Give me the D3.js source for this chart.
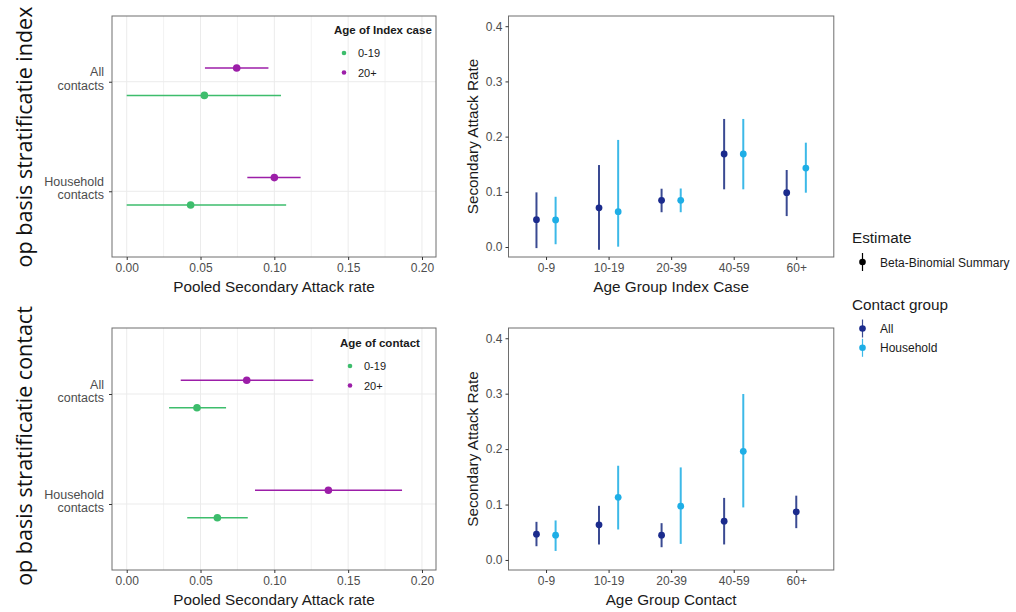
<!DOCTYPE html>
<html><head><meta charset="utf-8">
<script src="https://cdn.jsdelivr.net/npm/d3@7"></script>
<style>body{margin:0;background:#fff}svg{display:block}text{font-family:"Liberation Sans",Arial,sans-serif}</style>
</head><body><svg id="c" width="1016" height="612"></svg>
<script>
// ---------- DATA ----------
const contactTypes = ["All contacts", "Household contacts"];
const splitAges = ["0-19", "20+"];
// Top-left: stratified by age of index case
const idxEst019 = [0.0526, 0.0433];
const idxLo019  = [0.000, 0.000];
const idxHi019  = [0.1045, 0.108];
const idxEst20  = [0.0745, 0.100];
const idxLo20   = [0.053, 0.0817];
const idxHi20   = [0.096, 0.1178];
// Bottom-left: stratified by age of contact
const conEst019 = [0.0476, 0.0614];
const conLo019  = [0.0287, 0.041];
const conHi019  = [0.0673, 0.082];
const conEst20  = [0.0813, 0.1366];
const conLo20   = [0.0366, 0.0869];
const conHi20   = [0.1264, 0.1865];
const pooledTicks = [0, 0.05, 0.10, 0.15, 0.20];
const pooledMinor = [0.025, 0.075, 0.125, 0.175];

// Right panels
const ageGroups = ["0-9", "10-19", "20-39", "40-59", "60+"];
const contactGroups = ["All", "Household"];
const idxAllEst = [0.0495, 0.071, 0.0845, 0.1685, 0.0984];
const idxAllLo  = [-0.002, -0.005, 0.063, 0.1045, 0.056];
const idxAllHi  = [0.099, 0.1485, 0.1056, 0.232, 0.1395];
const idxHhEst  = [0.049, 0.064, 0.0845, 0.1685, 0.143];
const idxHhLo   = [0.005, 0.0006, 0.063, 0.1045, 0.0984];
const idxHhHi   = [0.091, 0.194, 0.106, 0.232, 0.189];
const conAllEst = [0.0465, 0.0634, 0.0447, 0.070, 0.0869];
const conAllLo  = [0.0248, 0.0279, 0.023, 0.028, 0.0574];
const conAllHi  = [0.0688, 0.0977, 0.0664, 0.112, 0.116];
const conHhEst  = [0.0447, 0.113, 0.097, 0.196, null];
const conHhLo   = [0.0163, 0.055, 0.029, 0.0948, null];
const conHhHi   = [0.0713, 0.170, 0.167, 0.2994, null];
const sarTicks = [0, 0.1, 0.2, 0.3, 0.4];

// ---------- STYLE ----------
const col = {"0-19": "#3dbd6c", "20+": "#9c1ea8"};
const colPt = {"All": "#1b2b8d", "Household": "#1eaee6"};
const colLn = {"All": "#3a4a92", "Household": "#3cb9e8"};
const tickCol = "#4d4d4d", borderCol = "#6e6e6e", gridCol = "#ebebeb";
const RX0 = 508.5, RX1 = 833.8;

const svg = d3.select("#c");

function leftPanel(y0, y1, est019, lo019, hi019, est20, lo20, hi20, legendTitle, legX, legY) {
  const g = svg.append("g");
  const x = d3.scaleLinear().domain([-0.00996, 0.2095]).range([112, 436]);
  const y = d3.scalePoint().domain(contactTypes).range([y0, y1]).padding(0.6);
  const off = y.step() * 0.125;
  g.selectAll(".gmin").data(pooledMinor).join("line")
    .attr("x1", d => x(d)).attr("x2", d => x(d)).attr("y1", y0).attr("y2", y1)
    .attr("stroke", "#f2f2f2").attr("stroke-width", 1);
  g.selectAll(".gmaj").data(pooledTicks).join("line")
    .attr("x1", d => x(d)).attr("x2", d => x(d)).attr("y1", y0).attr("y2", y1)
    .attr("stroke", gridCol).attr("stroke-width", 1);
  g.selectAll(".gh").data(contactTypes).join("line")
    .attr("x1", 112).attr("x2", 436).attr("y1", d => y(d)).attr("y2", d => y(d))
    .attr("stroke", gridCol).attr("stroke-width", 1);
  const series = [
    {age: "20+", est: est20, lo: lo20, hi: hi20, dy: -off},
    {age: "0-19", est: est019, lo: lo019, hi: hi019, dy: off}
  ];
  series.forEach(s => {
    const data = contactTypes.map((c, i) => ({c, e: s.est[i], l: s.lo[i], h: s.hi[i]}));
    g.selectAll(null).data(data).join("line")
      .attr("x1", d => x(d.l)).attr("x2", d => x(d.h))
      .attr("y1", d => y(d.c) + s.dy).attr("y2", d => y(d.c) + s.dy)
      .attr("stroke", col[s.age]).attr("stroke-width", 1.5);
    g.selectAll(null).data(data).join("circle")
      .attr("cx", d => x(d.e)).attr("cy", d => y(d.c) + s.dy).attr("r", 3.8)
      .attr("fill", col[s.age]);
  });
  g.append("rect").attr("x", 112).attr("y", y0).attr("width", 324).attr("height", y1 - y0)
    .attr("fill", "none").attr("stroke", borderCol).attr("stroke-width", 1);
  const xa = g.append("g").attr("transform", `translate(0,${y1})`)
    .call(d3.axisBottom(x).tickValues(pooledTicks).tickFormat(d3.format(".2f")).tickSize(3).tickPadding(3));
  xa.select(".domain").remove();
  xa.selectAll("line").attr("stroke", "#333");
  xa.selectAll("text").attr("fill", tickCol).attr("font-size", 12).attr("font-family", "Liberation Sans, Arial");
  const ya = g.append("g").attr("transform", "translate(112,0)")
    .call(d3.axisLeft(y).tickSize(3).tickFormat(""));
  ya.select(".domain").remove();
  ya.selectAll("line").attr("stroke", "#333");
  contactTypes.forEach(c => {
    const parts = c.split(" ");
    const t = g.append("text").attr("x", 104).attr("y", y(c) - 5.5)
      .attr("text-anchor", "end").attr("fill", tickCol).attr("font-size", 12.5);
    parts.forEach((p, i) => t.append("tspan").attr("x", 104).attr("dy", i === 0 ? 0 : 13.5).text(p));
  });
  g.append("text").attr("x", 274).attr("y", y1 + 35).attr("text-anchor", "middle")
    .attr("font-size", 15.3).attr("fill", "#1a1a1a").text("Pooled Secondary Attack rate");
  g.append("text").attr("x", legX).attr("y", legY).attr("font-size", 11.5).attr("font-weight", "bold")
    .attr("fill", "#1a1a1a").text(legendTitle);
  splitAges.forEach((a, i) => {
    const yy = legY + 19 + i * 19.5;
    g.append("circle").attr("cx", legX + 10).attr("cy", yy).attr("r", 2.3).attr("fill", col[a]);
    g.append("text").attr("x", legX + 24).attr("y", yy + 4).attr("font-size", 11)
      .attr("fill", "#1a1a1a").text(a);
  });
}

leftPanel(16, 257, idxEst019, idxLo019, idxHi019, idxEst20, idxLo20, idxHi20, "Age of Index case", 334, 34);
leftPanel(328, 570, conEst019, conLo019, conHi019, conEst20, conLo20, conHi20, "Age of contact", 340, 347);

function rightPanel(y0, y1, allE, allL, allH, hhE, hhL, hhH, xTitle) {
  const g = svg.append("g");
  const x = d3.scalePoint().domain(ageGroups).range([RX0, RX1]).padding(0.6);
  const y = d3.scaleLinear().domain([-0.0181, 0.4185]).range([y1, y0]);
  const off = x.step() * 0.153;
  const series = [
    {grp: "All", e: allE, l: allL, h: allH, dx: -off},
    {grp: "Household", e: hhE, l: hhL, h: hhH, dx: off}
  ];
  series.forEach(s => {
    const data = ageGroups.map((a, i) => {
      const both = allE[i] != null && hhE[i] != null;
      return {a, e: s.e[i], l: s.l[i], h: s.h[i], dx: both ? s.dx : 0};
    }).filter(d => d.e != null);
    g.selectAll(null).data(data).join("line")
      .attr("x1", d => x(d.a) + d.dx).attr("x2", d => x(d.a) + d.dx)
      .attr("y1", d => y(d.l)).attr("y2", d => y(d.h))
      .attr("stroke", colLn[s.grp]).attr("stroke-width", 2);
    g.selectAll(null).data(data).join("circle")
      .attr("cx", d => x(d.a) + d.dx).attr("cy", d => y(d.e)).attr("r", 3.4)
      .attr("fill", colPt[s.grp]);
  });
  g.append("rect").attr("x", RX0).attr("y", y0).attr("width", RX1 - RX0).attr("height", y1 - y0)
    .attr("fill", "none").attr("stroke", borderCol).attr("stroke-width", 1);
  const xa = g.append("g").attr("transform", `translate(0,${y1})`)
    .call(d3.axisBottom(x).tickSize(3).tickPadding(3));
  xa.select(".domain").remove();
  xa.selectAll("line").attr("stroke", "#333");
  xa.selectAll("text").attr("fill", tickCol).attr("font-size", 12).attr("font-family", "Liberation Sans, Arial");
  const ya = g.append("g").attr("transform", `translate(${RX0},0)`)
    .call(d3.axisLeft(y).tickValues(sarTicks).tickFormat(d3.format(".1f")).tickSize(3).tickPadding(3));
  ya.select(".domain").remove();
  ya.selectAll("line").attr("stroke", "#333");
  ya.selectAll("text").attr("fill", tickCol).attr("font-size", 12).attr("font-family", "Liberation Sans, Arial");
  g.append("text").attr("x", (RX0 + RX1) / 2).attr("y", y1 + 35).attr("text-anchor", "middle")
    .attr("font-size", 15.3).attr("fill", "#1a1a1a").text(xTitle);
  g.append("text").attr("transform", `translate(478,${(y0 + y1) / 2}) rotate(-90)`)
    .attr("text-anchor", "middle").attr("font-size", 15.3).attr("fill", "#1a1a1a")
    .text("Secondary Attack Rate");
}
rightPanel(16, 257, idxAllEst, idxAllLo, idxAllHi, idxHhEst, idxHhLo, idxHhHi, "Age Group Index Case");
rightPanel(328, 570, conAllEst, conAllLo, conAllHi, conHhEst, conHhLo, conHhHi, "Age Group Contact");

// Row titles
[["op basis stratificatie index", 137], ["op basis stratificatie contact", 446]].forEach(([t, cy]) => {
  svg.append("text").attr("transform", `translate(32,${cy}) rotate(-90)`)
    .attr("text-anchor", "middle").attr("font-size", 21.5).attr("fill", "#111")
    .style("font-family", "'Open Sans', sans-serif").text(t);
});

// Right legends
const lg = svg.append("g");
lg.append("text").attr("x", 852).attr("y", 243).attr("font-size", 15.3).attr("fill", "#1a1a1a").text("Estimate");
function keyGlyph(cx, cy, ln, pt) {
  lg.append("line").attr("x1", cx).attr("x2", cx).attr("y1", cy - 9).attr("y2", cy + 9)
    .attr("stroke", ln).attr("stroke-width", 1.2);
  lg.append("circle").attr("cx", cx).attr("cy", cy).attr("r", 3.3).attr("fill", pt);
}
keyGlyph(862.5, 262, "#000", "#000");
lg.append("text").attr("x", 880).attr("y", 266.5).attr("font-size", 12).attr("fill", "#1a1a1a").text("Beta-Binomial Summary");
lg.append("text").attr("x", 852).attr("y", 310).attr("font-size", 15.3).attr("fill", "#1a1a1a").text("Contact group");
contactGroups.forEach((c, i) => {
  const yy = 328.5 + i * 19.3;
  keyGlyph(862.5, yy, colLn[c], colPt[c]);
  lg.append("text").attr("x", 880).attr("y", yy + 4.5).attr("font-size", 12).attr("fill", "#1a1a1a").text(c);
});
</script></body></html>
